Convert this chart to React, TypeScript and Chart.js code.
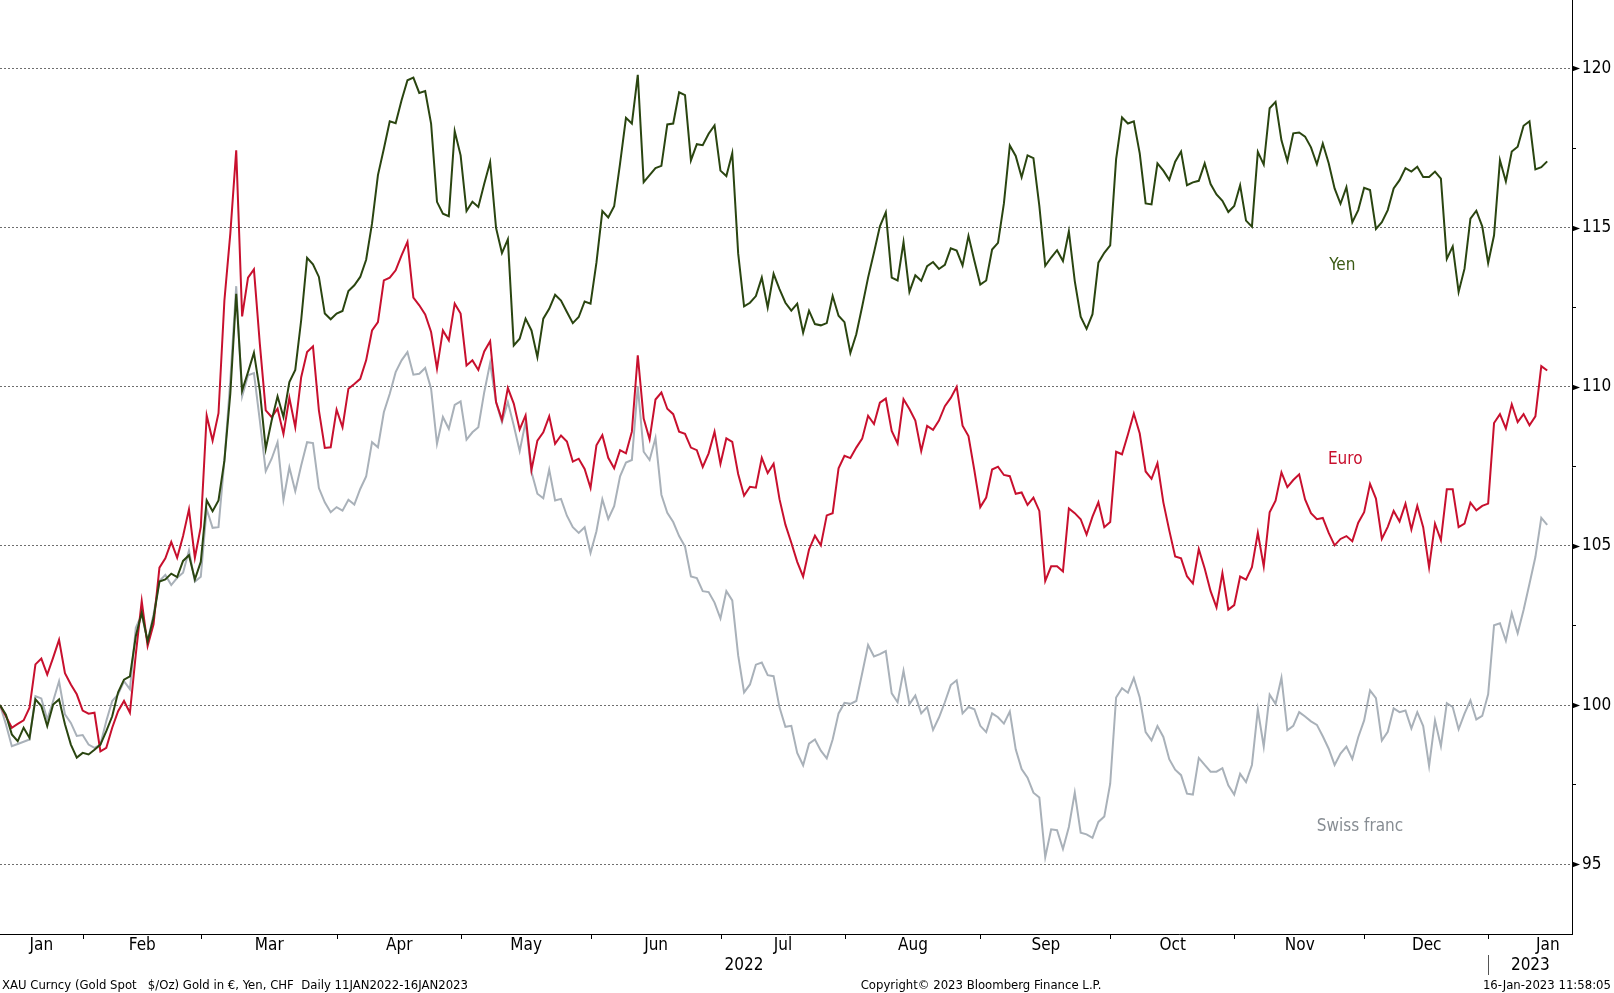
import React, { useEffect, useRef } from 'react';
import { Chart, registerables } from 'chart.js';

Chart.register(...registerables);

const FONT = '"DejaVu Sans Condensed", "DejaVu Sans", sans-serif';

// trading days shown on the chart (weekdays, two holidays missing)
const START_DATE = '2022-01-11';
const END_DATE = '2023-01-16';
const HOLIDAYS = ['2022-12-26', '2023-01-02'];
const MONTHS = ['Jan', 'Feb', 'Mar', 'Apr', 'May', 'Jun', 'Jul', 'Aug', 'Sep', 'Oct', 'Nov', 'Dec'];

const Y_MAJOR = [95, 100, 105, 110, 115, 120];
const Y_MINOR = [97.5, 102.5, 107.5, 112.5, 117.5];

// gold priced in yen, rebased to 100
const YEN = [
  100, 99.7, 99.08, 98.87, 99.29, 98.97, 100.18, 99.97, 99.34, 100.02,
  100.18, 99.4, 98.76, 98.35, 98.5, 98.45, 98.6, 98.76, 99.18, 99.65,
  100.4, 100.8, 100.9, 102.17, 102.9, 102.0, 102.75, 103.88, 103.95, 104.13,
  104.02, 104.53, 104.71, 103.95, 104.5, 106.43, 106.09, 106.43, 107.68, 109.78,
  112.92, 109.88, 110.46, 111.07, 109.88, 108.05, 108.94, 109.7, 109.05, 110.15,
  110.53, 112.09, 114.05, 113.85, 113.45, 112.3, 112.12, 112.3, 112.38, 113.01,
  113.19, 113.45, 113.99, 115.13, 116.65, 117.48, 118.34, 118.28, 119.0, 119.63,
  119.71, 119.23, 119.29, 118.27, 115.81, 115.44, 115.36, 118.03, 117.27, 115.52,
  115.81, 115.65, 116.38, 117.06, 114.99, 114.2, 114.63, 111.3, 111.51, 112.14,
  111.77, 110.93, 112.14, 112.45, 112.89, 112.71, 112.35, 112.0, 112.19, 112.68,
  112.61, 113.9, 115.52, 115.32, 115.67, 117.01, 118.45, 118.27, 119.8, 116.43,
  116.65, 116.87, 116.94, 118.24, 118.27, 119.25, 119.16, 117.11, 117.62, 117.59,
  117.95, 118.21, 116.79, 116.62, 117.34, 114.19, 112.53, 112.64, 112.85, 113.43,
  112.49, 113.55, 113.07, 112.64, 112.39, 112.61, 111.7, 112.39, 111.97, 111.93,
  112.0, 112.85, 112.23, 112.03, 111.06, 111.65, 112.52, 113.43, 114.22, 115.04,
  115.48, 113.43, 113.34, 114.54, 112.98, 113.5, 113.33, 113.79, 113.92, 113.7,
  113.83, 114.35, 114.28, 113.81, 114.74, 113.96, 113.21, 113.34, 114.31, 114.52,
  115.76, 117.58, 117.25, 116.58, 117.27, 117.18, 115.68, 113.8, 114.06, 114.29,
  113.95, 114.88, 113.32, 112.2, 111.82, 112.28, 113.9, 114.21, 114.44, 117.15,
  118.46, 118.27, 118.34, 117.33, 115.76, 115.73, 117.02, 116.79, 116.5, 117.07,
  117.39, 116.33, 116.42, 116.47, 117.02, 116.37, 116.04, 115.84, 115.49, 115.68,
  116.33, 115.22, 115.03, 117.38, 116.98, 118.75, 118.95, 117.74, 117.09, 117.96,
  117.99, 117.86, 117.52, 116.99, 117.64, 117.02, 116.23, 115.75, 116.27, 115.17,
  115.55, 116.25, 116.18, 114.96, 115.17, 115.55, 116.23, 116.49, 116.87, 116.76,
  116.91, 116.59, 116.59, 116.76, 116.54, 114.02, 114.41, 112.98, 113.71, 115.28,
  115.53, 115.04, 113.89, 114.76, 117.12, 116.45, 117.39, 117.54, 118.2, 118.34,
  116.83, 116.9, 117.08,
];

// gold priced in euro, rebased to 100
const EURO = [
  100, 99.65, 99.29, 99.41, 99.52, 99.92, 101.28, 101.46, 100.96, 101.49,
  102.05, 101.0, 100.65, 100.34, 99.83, 99.73, 99.76, 98.55, 98.66, 99.29,
  99.81, 100.13, 99.76, 101.6, 103.27, 101.86, 102.54, 104.32, 104.61, 105.13,
  104.63, 105.31, 106.15, 104.63, 105.6, 109.1, 108.31, 109.17, 112.71, 114.81,
  117.43, 112.21, 113.43, 113.69, 111.35, 109.26, 109.05, 109.31, 108.52, 109.65,
  108.73, 110.3, 111.09, 111.27, 109.26, 108.08, 108.1, 109.28, 108.73, 109.94,
  110.09, 110.25, 110.83, 111.77, 112.03, 113.34, 113.43, 113.66, 114.13, 114.55,
  112.8, 112.56, 112.27, 111.72, 110.57, 111.77, 111.46, 112.61, 112.3, 110.67,
  110.83, 110.53, 111.11, 111.43, 109.52, 108.96, 109.96, 109.47, 108.66, 109.1,
  107.39, 108.31, 108.57, 109.07, 108.21, 108.47, 108.28, 107.65, 107.74, 107.42,
  106.82, 108.16, 108.48, 107.77, 107.44, 108.01, 107.91, 108.59, 110.99, 109.0,
  108.35, 109.6, 109.82, 109.31, 109.14, 108.59, 108.52, 108.09, 108.01, 107.48,
  107.91, 108.59, 107.58, 108.38, 108.27, 107.26, 106.58, 106.86, 106.83, 107.77,
  107.29, 107.58, 106.47, 105.67, 105.1, 104.5, 104.04, 104.89, 105.32, 105.02,
  105.96, 106.03, 107.44, 107.83, 107.76, 108.09, 108.37, 109.09, 108.83, 109.5,
  109.63, 108.61, 108.22, 109.61, 109.3, 108.94, 107.98, 108.77, 108.65, 108.94,
  109.39, 109.65, 110.0, 108.78, 108.45, 107.37, 106.22, 106.52, 107.4, 107.49,
  107.23, 107.19, 106.64, 106.68, 106.29, 106.52, 106.1, 103.9, 104.36, 104.36,
  104.2, 106.18, 106.03, 105.84, 105.36, 105.92, 106.37, 105.59, 105.75, 107.96,
  107.88, 108.5, 109.16, 108.53, 107.34, 107.11, 107.6, 106.37, 105.49, 104.67,
  104.61, 104.05, 103.82, 104.9, 104.29, 103.58, 103.07, 104.15, 103.0, 103.14,
  104.04, 103.94, 104.33, 105.41, 104.36, 106.06, 106.42, 107.31, 106.85, 107.07,
  107.25, 106.46, 106.03, 105.84, 105.88, 105.41, 105.02, 105.22, 105.31, 105.15,
  105.73, 106.06, 106.95, 106.49, 105.22, 105.6, 106.1, 105.77, 106.33, 105.52,
  106.26, 105.59, 104.33, 105.7, 105.18, 106.78, 106.78, 105.59, 105.7, 106.36,
  106.12, 106.26, 106.33, 108.86, 109.14, 108.69, 109.45, 108.89, 109.14, 108.79,
  109.07, 110.65, 110.51,
];

// gold priced in swiss francs, rebased to 100
const CHF = [
  100, 99.4, 98.71, 98.78, 98.85, 98.92, 100.28, 100.21, 99.55, 100.13,
  100.75, 99.71, 99.44, 99.03, 99.06, 98.76, 98.66, 98.76, 99.5, 100.13,
  100.34, 100.75, 100.5, 102.43, 102.85, 102.0, 102.85, 103.9, 104.09, 103.77,
  104.0, 104.16, 104.86, 103.88, 104.03, 106.16, 105.57, 105.59, 107.68, 110.2,
  113.16, 109.7, 110.36, 110.43, 108.94, 107.35, 107.74, 108.26, 106.45, 107.47,
  106.72, 107.53, 108.26, 108.23, 106.82, 106.37, 106.06, 106.22, 106.11, 106.45,
  106.3, 106.79, 107.18, 108.26, 108.1, 109.2, 109.78, 110.46, 110.83, 111.09,
  110.38, 110.41, 110.59, 109.94, 108.21, 109.05, 108.68, 109.43, 109.54, 108.34,
  108.57, 108.73, 109.83, 110.75, 109.52, 108.89, 109.52, 108.78, 107.98, 108.89,
  107.32, 106.64, 106.5, 107.4, 106.43, 106.48, 105.95, 105.59, 105.41, 105.59,
  104.78, 105.46, 106.47, 105.85, 106.25, 107.19, 107.62, 107.7, 110.01, 107.96,
  107.7, 108.39, 106.61, 106.04, 105.75, 105.31, 104.98, 104.04, 103.99, 103.58,
  103.55, 103.22, 102.72, 103.58, 103.29, 101.56, 100.4, 100.65, 101.27, 101.34,
  100.94, 100.91, 99.93, 99.32, 99.35, 98.5, 98.11, 98.79, 98.92, 98.57,
  98.33, 98.92, 99.74, 100.07, 100.04, 100.13, 101.0, 101.89, 101.53, 101.6,
  101.7, 100.37, 100.09, 101.08, 100.03, 100.3, 99.74, 99.94, 99.22, 99.61,
  100.09, 100.63, 100.78, 99.74, 99.94, 99.87, 99.35, 99.15, 99.74, 99.62,
  99.42, 99.8, 98.61, 97.99, 97.72, 97.25, 97.1, 95.22, 96.1, 96.07,
  95.48, 96.17, 97.25, 95.99, 95.94, 95.83, 96.33, 96.5, 97.53, 100.24,
  100.53, 100.39, 100.85, 100.24, 99.15, 98.89, 99.34, 99.0, 98.3, 97.97,
  97.8, 97.22, 97.19, 98.34, 98.12, 97.91, 97.91, 98.02, 97.48, 97.19,
  97.84, 97.58, 98.12, 99.86, 98.7, 100.33, 100.04, 100.86, 99.21, 99.35,
  99.78, 99.64, 99.49, 99.38, 99.02, 98.63, 98.12, 98.48, 98.7, 98.31,
  98.99, 99.52, 100.46, 100.22, 98.89, 99.16, 99.9, 99.78, 99.83, 99.27,
  99.78, 99.34, 98.09, 99.52, 98.71, 100.06, 99.94, 99.24, 99.73, 100.15,
  99.55, 99.66, 100.34, 102.51, 102.57, 102.02, 102.89, 102.26, 102.99, 103.81,
  104.65, 105.88, 105.66,
];

const YEN_COLOR = '#2a4510';
const EURO_COLOR = '#c8102e';
const CHF_COLOR = '#a9b1b9';

function tradingDays(): Date[] {
  const out: Date[] = [];
  const d = new Date(START_DATE + 'T00:00:00Z');
  const end = new Date(END_DATE + 'T00:00:00Z');
  while (d <= end) {
    const wd = d.getUTCDay();
    const iso = d.toISOString().slice(0, 10);
    if (wd !== 0 && wd !== 6 && !HOLIDAYS.includes(iso)) out.push(new Date(d));
    d.setUTCDate(d.getUTCDate() + 1);
  }
  return out;
}

const DAYS = tradingDays();
const X_MAX = 266.2;
// Bloomberg puts the month break just before the first day of the month
const BREAK = 0.9;

type Seg = { key: number; label: string; start: number; end: number };

function segments(keyOf: (d: Date) => number, labelOf: (d: Date) => string): Seg[] {
  const segs: Seg[] = [];
  DAYS.forEach((d, i) => {
    const key = keyOf(d);
    const last = segs[segs.length - 1];
    if (!last || last.key !== key) segs.push({ key, label: labelOf(d), start: i, end: i });
    else last.end = i;
  });
  return segs;
}

const monthSegs = segments(d => d.getUTCFullYear() * 12 + d.getUTCMonth(), d => MONTHS[d.getUTCMonth()]);
const yearSegs = segments(d => d.getUTCFullYear(), d => String(d.getUTCFullYear()));

const monthBounds = monthSegs.slice(1).map(s => s.start - BREAK);
const monthLabels = new Map<number, string>();
monthSegs.forEach((s, i) => {
  let c;
  if (i === 0) c = (s.start + s.end) / 2;
  // the running month is labelled as if it were a full one
  else if (i === monthSegs.length - 1) c = s.start - BREAK + 10;
  else c = (s.start + s.end + 1) / 2 - BREAK;
  monthLabels.set(c, s.label);
});

const yearBounds = yearSegs.slice(1).map(s => s.start - BREAK);
const yearLabels = new Map<number, string>();
yearSegs.forEach((s, i) => {
  const c = i === yearSegs.length - 1 ? (s.start - BREAK + X_MAX) / 2 : (s.start + s.end) / 2;
  yearLabels.set(c, s.label);
});

const NOTES = [
  { text: 'Yen', x: 227.3, y: 113.8, color: '#3a5a14' },
  { text: 'Euro', x: 227.8, y: 107.7, color: EURO_COLOR },
  { text: 'Swiss franc', x: 230.3, y: 96.2, color: '#878d93' },
];

const noZeroPad = (scale: any) => {
  scale.paddingTop = 0;
  scale.paddingBottom = 0;
  scale.paddingLeft = 0;
  scale.paddingRight = 0;
};

const bloombergBits = {
  id: 'bloombergBits',
  afterDatasetsDraw(chart: any) {
    const { ctx, scales } = chart;
    ctx.save();
    ctx.font = `17px ${FONT}`;
    ctx.textAlign = 'center';
    ctx.textBaseline = 'middle';
    NOTES.forEach(n => {
      ctx.fillStyle = n.color;
      ctx.fillText(n.text, scales.x.getPixelForValue(n.x), scales.y.getPixelForValue(n.y));
    });
    ctx.restore();
  },
  afterDraw(chart: any) {
    const { ctx, scales, chartArea } = chart;
    const ax = chartArea.right;
    ctx.save();
    ctx.fillStyle = '#000';
    Y_MAJOR.forEach(v => {
      const y = Math.round(scales.y.getPixelForValue(v)) + 0.5;
      ctx.beginPath();
      ctx.moveTo(ax, y - 3);
      ctx.lineTo(ax + 8, y);
      ctx.lineTo(ax, y + 3);
      ctx.closePath();
      ctx.fill();
    });
    ctx.restore();
  },
};

const line = (label: string, values: number[], color: string) => ({
  label,
  data: values.map((y, i) => ({ x: i, y })),
  borderColor: color,
  borderWidth: 2,
  pointRadius: 0,
  tension: 0,
  fill: false,
});

const GoldChart: React.FC = () => {
  const canvasRef = useRef<HTMLCanvasElement | null>(null);

  useEffect(() => {
    document.body.style.margin = '0';
    if (!canvasRef.current) return;
    Chart.defaults.font.family = FONT;

    const chart = new Chart(canvasRef.current, {
      type: 'line',
      data: {
        datasets: [
          line('Yen', YEN, YEN_COLOR),
          line('Euro', EURO, EURO_COLOR),
          line('Swiss franc', CHF, CHF_COLOR),
        ],
      },
      options: {
        animation: false,
        responsive: true,
        maintainAspectRatio: false,
        layout: { padding: { left: 0, right: 0, top: 0, bottom: 14 } },
        plugins: { legend: { display: false }, tooltip: { enabled: false } },
        scales: {
          x: {
            type: 'linear',
            position: 'bottom',
            weight: 0,
            min: 0,
            max: X_MAX,
            afterBuildTicks: (s: any) => {
              s.ticks = [...monthBounds, ...monthLabels.keys()].sort((a, b) => a - b).map(v => ({ value: v }));
            },
            afterFit: (s: any) => { s.height = 21; noZeroPad(s); },
            grid: {
              drawOnChartArea: false,
              drawTicks: true,
              tickLength: 5,
              color: (c: any) => (monthBounds.includes(c.tick?.value) ? '#000' : 'rgba(0,0,0,0)'),
            },
            border: { display: true, color: '#000', width: 1 },
            ticks: {
              autoSkip: false,
              maxRotation: 0,
              minRotation: 0,
              padding: -4,
              color: '#000',
              font: { size: 17, family: FONT },
              callback: (v: any) => monthLabels.get(Number(v)) ?? '',
            },
          },
          xYear: {
            type: 'linear',
            position: 'bottom',
            weight: 1,
            min: 0,
            max: X_MAX,
            afterBuildTicks: (s: any) => {
              s.ticks = [...yearBounds, ...yearLabels.keys()].sort((a, b) => a - b).map(v => ({ value: v }));
            },
            afterFit: (s: any) => { s.height = 24; noZeroPad(s); },
            grid: {
              drawOnChartArea: false,
              drawTicks: true,
              tickLength: 20,
              color: (c: any) => (yearBounds.includes(c.tick?.value) ? '#555' : 'rgba(0,0,0,0)'),
            },
            border: { display: false },
            ticks: {
              autoSkip: false,
              maxRotation: 0,
              minRotation: 0,
              padding: -20,
              color: '#000',
              font: { size: 17, family: FONT },
              callback: (v: any) => yearLabels.get(Number(v)) ?? '',
            },
          },
          y: {
            type: 'linear',
            position: 'right',
            min: 92.81,
            max: 122.15,
            afterBuildTicks: (s: any) => {
              s.ticks = [...Y_MAJOR, ...Y_MINOR].sort((a, b) => a - b).map(v => ({ value: v }));
            },
            afterFit: (s: any) => { s.width = 42; noZeroPad(s); },
            grid: {
              drawOnChartArea: true,
              drawTicks: true,
              tickLength: 4,
              lineWidth: 1,
              color: (c: any) => (Y_MAJOR.includes(c.tick?.value) ? '#6e6e6e' : 'rgba(0,0,0,0)'),
              tickColor: (c: any) => (Y_MAJOR.includes(c.tick?.value) ? 'rgba(0,0,0,0)' : '#000'),
            },
            border: { display: true, color: '#000', width: 1, dash: [2, 2] },
            ticks: {
              autoSkip: false,
              padding: 6,
              color: '#000',
              font: { size: 17, family: FONT },
              callback: (v: any) => (Y_MAJOR.includes(Number(v)) ? String(v) : ''),
            },
          },
        },
      },
      plugins: [bloombergBits],
    });

    return () => {
      chart.destroy();
    };
  }, []);

  const foot: React.CSSProperties = {
    position: 'absolute',
    top: 977,
    fontFamily: FONT,
    fontSize: 13,
    lineHeight: '16px',
    color: '#000',
    whiteSpace: 'pre',
  };

  return (
    <div style={{ position: 'relative', width: 1614, height: 993, overflow: 'hidden', background: '#fff' }}>
      <canvas ref={canvasRef}></canvas>
      <div style={{ ...foot, left: 2 }}>XAU Curncy (Gold Spot   $/Oz) Gold in €, Yen, CHF  Daily 11JAN2022-16JAN2023</div>
      <div style={{ ...foot, left: 981, transform: 'translateX(-50%)' }}>Copyright© 2023 Bloomberg Finance L.P.</div>
      <div style={{ ...foot, right: 3 }}>16-Jan-2023 11:58:05</div>
    </div>
  );
};

export default function App() {
  return <GoldChart />;
}
